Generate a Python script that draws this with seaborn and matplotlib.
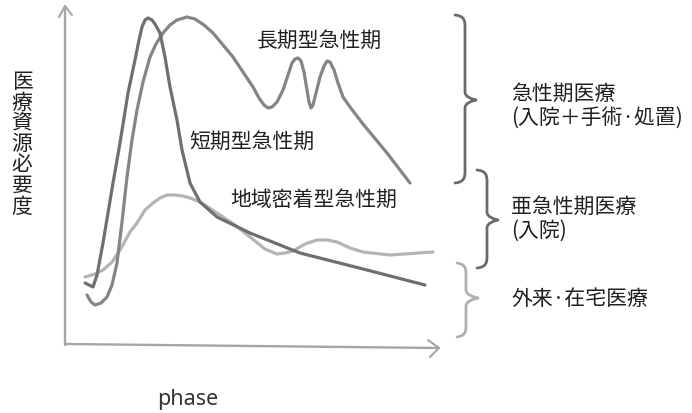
import matplotlib
matplotlib.use("Agg")
import matplotlib.pyplot as plt
from matplotlib.path import Path
from matplotlib.patches import PathPatch
import seaborn as sns
import pandas as pd

# curve values (phase, resource need)
short_x = [20, 28, 32, 38, 48, 55, 63, 70, 74, 77, 80, 83, 87, 90, 95, 100, 105, 112, 117, 125, 135, 152,
           185, 235, 302, 360]
short_y = [62, 58, 70, 102, 162, 202, 252, 285, 305, 318, 325, 327, 325, 321, 312, 288, 258, 225, 195, 162,
           143, 128, 112, 92, 75, 60]

long_x = [22, 26, 30, 36, 42, 47, 52, 57, 62, 67, 72, 78, 85, 91, 98, 105, 112, 122, 130, 139, 148, 158,
          168, 178, 188, 194, 199, 203, 207, 212, 218, 223, 227, 230, 233, 236, 239, 242, 244, 246, 248,
          251, 255, 259, 262, 265, 269, 273, 278, 285, 298, 322, 345]
long_y = [50, 43, 40, 42, 48, 60, 82, 123, 168, 205, 235, 263, 288, 301, 312, 320, 325, 328, 326, 320,
          312, 300, 288, 273, 258, 247, 240, 237, 238, 243, 255, 270, 282, 286, 287, 284, 273, 255, 243,
          237, 240, 252, 268, 279, 284, 283, 275, 262, 248, 238, 221, 192, 162]

local_x = [20, 30, 38, 47, 55, 65, 72, 80, 88, 95, 102, 110, 118, 125, 135, 152, 170, 185, 200, 212, 220,
           228, 240, 252, 262, 272, 285, 298, 325, 368]
local_y = [68, 71, 75, 83, 95, 113, 122, 135, 142, 147, 150, 150, 149, 147, 143, 132, 120, 108, 96, 91,
           92, 94, 101, 105, 105, 103, 97, 93, 90, 93]

series_names = ["長期型急性期", "短期型急性期", "地域密着型急性期"]
y_label = "医療資源必要度"
x_label = "phase"
care_labels = ["急性期医療\n(入院＋手術·処置)", "亜急性期医療\n(入院)", "外来·在宅医療"]

df = pd.concat([
    pd.DataFrame({"phase": local_x, "need": local_y, "type": series_names[2]}),
    pd.DataFrame({"phase": long_x, "need": long_y, "type": series_names[0]}),
    pd.DataFrame({"phase": short_x, "need": short_y, "type": series_names[1]}),
])
palette = {series_names[0]: "#858585", series_names[1]: "#6f6f6f", series_names[2]: "#b4b4b4"}

sns.set_style("white")
plt.rcParams["font.family"] = ["Noto Sans CJK JP", "DejaVu Sans"]

fig = plt.figure(figsize=(6.92, 4.13), dpi=100)
fig.patch.set_facecolor("white")

# overlay in pixel units for axes arrows, braces and text
ov = fig.add_axes([0, 0, 1, 1])
ov.set_xlim(0, 692)
ov.set_ylim(413, 0)
ov.axis("off")

ax = fig.add_axes([65 / 692, 68 / 413, 375 / 692, 340 / 413])
ax.set_xlim(0, 375)
ax.set_ylim(0, 340)
ax.axis("off")

sns.lineplot(data=df, x="phase", y="need", hue="type", palette=palette, estimator=None,
             sort=False, legend=False, lw=2.3, ax=ax, solid_capstyle="round", solid_joinstyle="round")

# hand-drawn looking axes
axc = "#a6a6a6"
ov.plot([65, 65], [345, 7], color=axc, lw=1.7, solid_capstyle="round")
ov.plot([59, 65, 72], [17, 6, 15], color=axc, lw=1.5, solid_capstyle="round")
ov.plot([65, 439], [344, 348], color=axc, lw=1.7, solid_capstyle="round")
ov.plot([428, 439, 430], [340, 348, 357], color=axc, lw=1.5, solid_capstyle="round")

txt = "#202020"
fs = 15
ov.text(320, 41, series_names[0], ha="center", va="center", fontsize=fs, color=txt)
ov.text(252, 142, series_names[1], ha="center", va="center", fontsize=fs, color=txt)
ov.text(314, 200, series_names[2], ha="center", va="center", fontsize=fs, color=txt)

for i, ch in enumerate(y_label):
    ov.text(22, 82 + i * 20.8, ch, ha="center", va="center", fontsize=fs, color=txt)

ov.text(188, 405, x_label, ha="center", va="baseline", fontsize=15.5, color="#333333",
        family=["Noto Sans", "DejaVu Sans"])


def brace(x_end, x_sp, x_tip, y_top, y_tip, y_bot, color):
    verts = [(x_end, y_top),
             (x_sp - 1, y_top + 1), (x_sp, y_top + 5), (x_sp, y_top + 12),
             (x_sp, y_tip - 8),
             (x_sp, y_tip - 3), (x_tip - 4, y_tip - 1), (x_tip, y_tip),
             (x_tip - 4, y_tip + 1), (x_sp, y_tip + 3), (x_sp, y_tip + 8),
             (x_sp, y_bot - 12),
             (x_sp, y_bot - 5), (x_sp - 1, y_bot - 1), (x_end, y_bot)]
    codes = [Path.MOVETO, Path.CURVE4, Path.CURVE4, Path.CURVE4, Path.LINETO,
             Path.CURVE4, Path.CURVE4, Path.CURVE4, Path.CURVE4, Path.CURVE4, Path.CURVE4,
             Path.LINETO, Path.CURVE4, Path.CURVE4, Path.CURVE4]
    ov.add_patch(PathPatch(Path(verts, codes), fill=False, edgecolor=color, lw=2.0,
                           capstyle="round", joinstyle="round"))


brace(455, 465, 476, 15, 100, 183, "#6b6b6b")
brace(477, 487, 498, 170, 220, 268, "#6b6b6b")
brace(457, 466, 478, 263, 298, 337, "#b0b0b0")

ov.text(511, 94, care_labels[0].split("\n")[0], ha="left", va="center", fontsize=fs, color=txt)
ov.text(511, 119, care_labels[0].split("\n")[1], ha="left", va="center", fontsize=fs, color=txt)
ov.text(511, 207, care_labels[1].split("\n")[0], ha="left", va="center", fontsize=fs, color=txt)
ov.text(511, 231, care_labels[1].split("\n")[1], ha="left", va="center", fontsize=fs, color=txt)
ov.text(511, 299, care_labels[2], ha="left", va="center", fontsize=fs, color=txt)

fig.savefig("out.png", dpi=100, facecolor="white")
